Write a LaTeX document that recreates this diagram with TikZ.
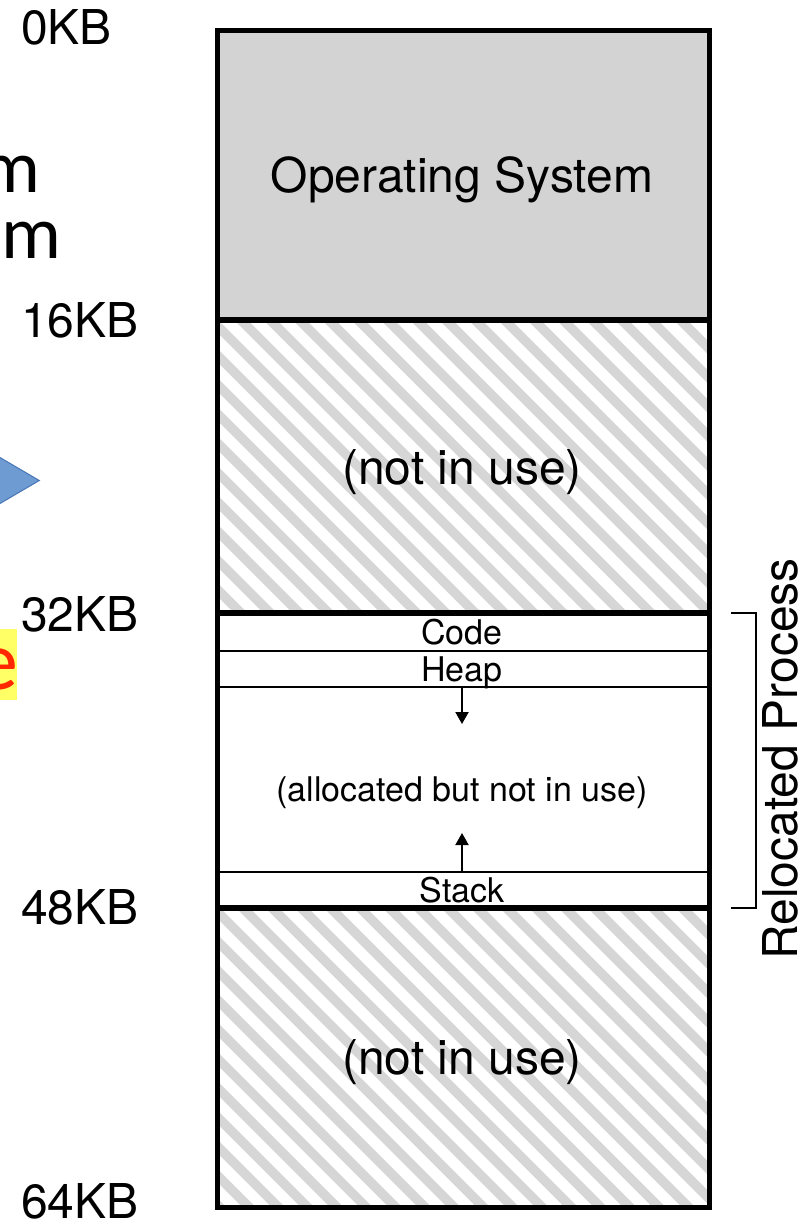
\documentclass[tikz,border=0pt]{standalone}
\usepackage{fontspec}
\setmainfont{TeX Gyre Heros}
\newfontfamily\slidefont{Carlito}
\usetikzlibrary{arrows.meta}

\definecolor{osgray}{RGB}{211,211,211}
\definecolor{hatchgray}{RGB}{214,214,214}
\definecolor{tipfill}{RGB}{110,155,210}
\definecolor{tipedge}{RGB}{72,118,182}
\definecolor{hlyellow}{RGB}{255,255,102}
\definecolor{hlred}{RGB}{255,40,0}

\begin{document}
\begin{tikzpicture}[x=1pt,y=-1pt,
  big/.style={font=\fontsize{48}{54}\selectfont, inner sep=0pt, anchor=base},
  small/.style={font=\fontsize{34}{38}\selectfont, inner sep=0pt, anchor=base},
  addr/.style={big, anchor=base west},
  boundary/.style={line width=5.5pt},
  divider/.style={line width=2pt},
  frame/.style={line width=5pt},
  stripe/.style={draw=hatchgray, line width=9.5pt},
  growarrow/.style={line width=2pt, -{Triangle[length=12pt,width=13pt]}},
  bracket/.style={line width=1.6pt},
  slide/.style={font=\slidefont\fontsize{75}{80}\selectfont, inner sep=0pt, anchor=base east}]

\useasboundingbox (0,0) rectangle (810,1224);
\clip (0,0) rectangle (810,1224);

% pieces of the neighbouring slide content at the left edge
\node[slide] (frag1) at (41,192) {m};
\node[slide] (frag2) at (62,258) {em};
\draw[fill=tipfill, draw=tipedge, line width=1pt]
  (-20,445.8) -- (39.3,480.5) -- (-20,515.2) -- cycle;
\fill[hlyellow] (-5,629) rectangle (17.3,700);
\node[slide, font=\slidefont\fontsize{84}{88}\selectfont, text=hlred] (frag3) at (18,689) {e};

% memory column
\fill[osgray] (217,30) rectangle (709,320);
\begin{scope}
  \clip (217,320) rectangle (709,613);
  \foreach \k in {-2,...,47} \draw[stripe] ({-958.2+29.3*\k},0) -- ++(1300,1300);
\end{scope}
\begin{scope}
  \clip (217,908) rectangle (709,1207);
  \foreach \k in {-2,...,47} \draw[stripe] ({-958.2+29.3*\k},0) -- ++(1300,1300);
\end{scope}

\draw[boundary] (217,320) -- (709,320);
\draw[boundary] (217,613) -- (709,613);
\draw[boundary] (217,908) -- (709,908);
\draw[divider] (217,651) -- (709,651);
\draw[divider] (217,687) -- (709,687);
\draw[divider] (217,872) -- (709,872);
\draw[frame] (217,30) rectangle (709,1207);

% region labels
\node[big] (os) at (462,192) {Operating System};
\node[big] (free1) at (462,484) {(not in use)};
\node[small] (code) at (462,644) {Code};
\node[small] (heap) at (462,681) {Heap};
\node[small] (gap) at (462,801) {(allocated but not in use)};
\node[small] (stack) at (462,902) {Stack};
\node[big] (free2) at (462,1074) {(not in use)};

% growth directions of heap and stack
\coordinate (heapbase) at (462,688);
\coordinate (heaptip) at (462,724);
\coordinate (stackbase) at (462,871);
\coordinate (stacktip) at (462,833);
\draw[growarrow] (heapbase) -- (heaptip);
\draw[growarrow] (stackbase) -- (stacktip);

% addresses
\node[addr] (a0) at (21,44) {0KB};
\node[addr] (a16) at (21,337) {16KB};
\node[addr] (a32) at (21,631) {32KB};
\node[addr] (a48) at (21,924) {48KB};
\node[addr] (a64) at (21,1218) {64KB};

% process bracket
\coordinate (btop) at (731,613);
\coordinate (bbot) at (731,908);
\draw[bracket] (btop) -- ++(25,0) |- (bbot);
\node[font=\fontsize{48}{52}\selectfont, inner sep=0pt, rotate=90] (reloc) at (780,759) {Relocated Process};
\end{tikzpicture}
\end{document}
